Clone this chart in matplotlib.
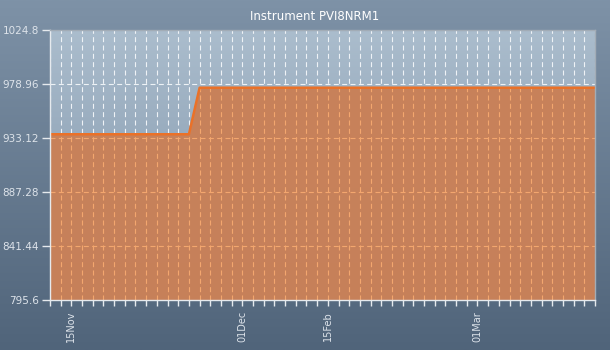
import numpy as np
import matplotlib
matplotlib.use('Agg')
import matplotlib.pyplot as plt
from matplotlib.colors import LinearSegmentedColormap

# Instrument readings, one per sample date
values = [
    936.3, 936.3, 936.3, 936.3, 936.3, 936.3, 936.3, 936.3, 936.3, 936.3,
    936.3, 936.3, 936.3, 936.3, 975.8, 975.8, 975.8, 975.8, 975.8, 975.8,
    975.8, 975.8, 975.8, 975.8, 975.8, 975.8, 975.8, 975.8, 975.8, 975.8,
    975.8, 975.8, 975.8, 975.8, 975.8, 975.8, 975.8, 975.8, 975.8, 975.8,
    975.8, 975.8, 975.8, 975.8, 975.8, 975.8, 975.8, 975.8, 975.8, 975.8,
    975.8, 975.8,
]
# Only a few sample dates carry a label
date_labels = {2: '15Nov', 18: '01Dec', 26: '15Feb', 40: '01Mar'}
y_ticks = [795.6, 841.44, 887.28, 933.12, 978.96, 1024.8]
title = 'Instrument PVI8NRM1'

TEXT = '#dde3ea'
W, H = 610, 350

fig = plt.figure(figsize=(W / 100, H / 100), dpi=100)

# Figure background gradient
bg = fig.add_axes([0, 0, 1, 1], zorder=-10)
bg_cmap = LinearSegmentedColormap.from_list('bg', ['#50647a', '#7e92a7'])
bg.imshow(np.linspace(0, 1, 256).reshape(-1, 1), cmap=bg_cmap, aspect='auto',
          origin='lower', extent=(0, 1, 0, 1))
bg.set_axis_off()

ax = fig.add_axes([50 / W, 50 / H, 545 / W, 270 / H])
ax.patch.set_alpha(0)

n = len(values)
x = np.arange(n)
ymin, ymax = y_ticks[0], y_ticks[-1]

# Plot-area gradient
pa_cmap = LinearSegmentedColormap.from_list('pa', ['#7d92a8', '#abbdcd'])
ax.imshow(np.linspace(0, 1, 256).reshape(-1, 1), cmap=pa_cmap, aspect='auto',
          origin='lower', extent=(0, n - 1, ymin, ymax), zorder=0)

dash = (0, (4.5, 3))


def draw_grid(color, zorder, clip=None):
    lines = [ax.axvline(xi, color=color, lw=0.8, ls=dash, zorder=zorder)
             for xi in x]
    lines += [ax.axhline(yv, color=color, lw=0.8, ls=dash, zorder=zorder)
              for yv in y_ticks[1:-1]]
    if clip is not None:
        for ln in lines:
            ln.set_clip_path(clip, transform=ax.transData)


# White grid over the background, tinted copy over the filled area
draw_grid('#eef2f6', 1)
area = ax.fill_between(x, values, ymin, color='#c98057', alpha=0.97, lw=0,
                       zorder=2)
draw_grid('#f3a66e', 2.5, clip=area.get_paths()[0])
ax.plot(x, values, color='#ea7128', lw=1.8, zorder=3)

ax.set_xlim(0, n - 1)
ax.set_ylim(ymin, ymax)

ax.set_xticks(x)
ax.set_xticklabels([date_labels.get(i, '') for i in x], rotation=90,
                   fontsize=7, color=TEXT)
ax.set_yticks(y_ticks)
ax.set_yticklabels(['1024.8' if v == 1024.8 else f'{v:g}' for v in y_ticks],
                   fontsize=7.5, color=TEXT)
ax.tick_params(axis='x', length=4, width=1, colors='#e6eaee', pad=4,
               labelcolor=TEXT)
ax.tick_params(axis='y', length=6, width=1, colors='#e6eaee', pad=2,
               labelcolor=TEXT)

ax.spines['left'].set_color('#e6eaee')
ax.spines['bottom'].set_color('#e6eaee')
ax.spines['top'].set_color('#a2acb6')
ax.spines['right'].set_color('#a2acb6')
for s in ax.spines.values():
    s.set_linewidth(1)
    s.set_zorder(5)

fig.text(315 / W, 1 - 17 / H, title, ha='center', va='center', fontsize=8.5,
         color='white')

fig.savefig('out.png', dpi=100)
